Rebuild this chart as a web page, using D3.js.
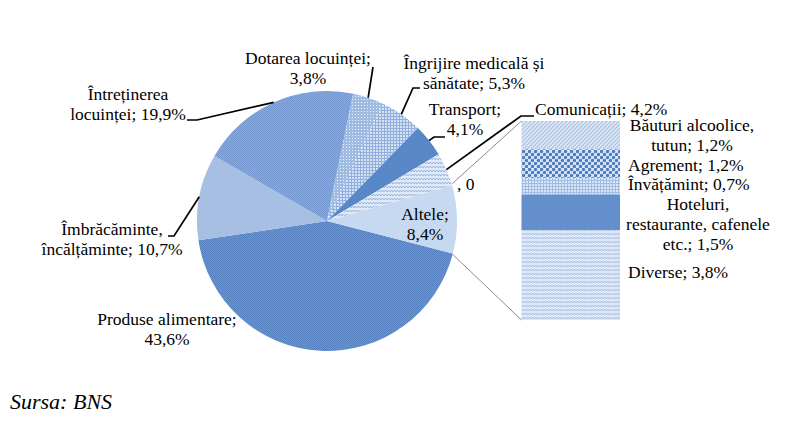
<!DOCTYPE html>
<html><head><meta charset="utf-8">
<script src="https://cdn.jsdelivr.net/npm/d3@7"></script>
<style>
body{margin:0;background:#fff}
svg{display:block}
</style>
</head><body><svg id="c" width="799" height="431"></svg>
<script>
// ---- data ----
const categories = ["Produse alimentare","Îmbrăcăminte, încălțăminte","Întreținerea locuinței","Dotarea locuinței","Îngrijire medicală și sănătate","Transport","Comunicații","Altele"];
const values = [43.6,10.7,19.9,3.8,5.3,4.1,4.2,8.4];
const labelLines = [["Produse alimentare;","43,6%"],["Îmbrăcăminte,","încălțăminte; 10,7%"],["Întreținerea","locuinței; 19,9%"],["Dotarea locuinței;","3,8%"],["Îngrijire medicală și","sănătate; 5,3%"],["Transport;","4,1%"],["Comunicații; 4,2%"],["Altele;","8,4%"]];
const otherCategories = ["Băuturi alcoolice, tutun","Agrement","Învățămint","Hoteluri, restaurante, cafenele etc.","Diverse"];
const otherValues = [1.2,1.2,0.7,1.5,3.8];
const otherLabelLines = [["Băuturi alcoolice,","tutun; 1,2%"],["Agrement; 1,2%"],["Învățămint; 0,7%"],["Hoteluri,","restaurante, cafenele","etc.; 1,5%"],["Diverse; 3,8%"]];
const zeroLabel = ", 0";
const sourceText = "Sursa: BNS";

// ---- layout / style ----
const W = 799, H = 431;
const FONT = "Liberation Serif", FS = 17.5;
const cx = 327, cy = 221, R = 130, startDeg = 104.5;
const lineH = 20;
const pieFills = ["url(#p-prod)","#a6bfe2","url(#p-intr)","url(#p-dot)","url(#p-ingr)","url(#p-transp)","url(#p-comm)","#c7d9f0"];
const barFills = ["url(#p-bev)","url(#p-agr)","url(#p-inv)","url(#p-hot)","url(#p-div)"];
const pieLabelPos = [
  {x:167,y:325,a:"middle",elbow:null},
  {x:112,y:235,a:"middle",elbow:[[174,236],[168,236]]},
  {x:128,y:100,a:"middle",elbow:[[197,120],[187,120]]},
  {x:308,y:63.5,a:"middle",elbow:[[373,67]]},
  {x:474,y:68.5,a:"middle",elbow:[[413,88],[420,88]]},
  {x:465,y:115,a:"middle",elbow:[[434,137],[445,137]]},
  {x:535,y:115,a:"start",elbow:[[521,116],[534,116]]},
  {x:425,y:220,a:"middle",elbow:null}
];
const barLabelPos = [
  {x:692,y:131,a:"middle"},
  {x:628,y:171,a:"start"},
  {x:628,y:190,a:"start"},
  {x:698,y:209.5,a:"middle"},
  {x:628,y:278,a:"start"}
];
const bar = {x0:521.5, x1:620, y0:121, y1:320};

const svg = d3.select("#c");
svg.append("rect").attr("width",W).attr("height",H).attr("fill","#fff");
const defs = svg.append("defs");

function pattern(id,w,h,bg,build){
  const p = defs.append("pattern").attr("id",id).attr("patternUnits","userSpaceOnUse").attr("width",w).attr("height",h);
  p.append("rect").attr("width",w).attr("height",h).attr("fill",bg);
  build(p);
}
function checker(id,a,b){
  pattern(id,2,2,a,p=>{
    p.append("rect").attr("x",0).attr("y",0).attr("width",1).attr("height",1).attr("fill",b);
    p.append("rect").attr("x",1).attr("y",1).attr("width",1).attr("height",1).attr("fill",b);
  });
}
function grid(id,bg,line){
  pattern(id,3,3,bg,p=>{
    p.append("rect").attr("x",0).attr("y",0).attr("width",3).attr("height",1).attr("fill",line);
    p.append("rect").attr("x",0).attr("y",0).attr("width",1).attr("height",3).attr("fill",line);
  });
}
function zigzag(id,bg,line){
  pattern(id,6,4,bg,p=>{
    p.append("path").attr("d","M0,3 L1.5,1 L3,3 L4.5,1 L6,3").attr("fill","none").attr("stroke",line).attr("stroke-width",1);
  });
}
checker("p-prod","#6893ce","#5884c4");
checker("p-intr","#86a9d9","#7599d0");
checker("p-transp","#5f8cc9","#5483c4");
checker("p-hot","#6b95ce","#5d89c6");
pattern("p-dot",3,3,"#9fbbe2",p=>{
  p.append("rect").attr("x",1).attr("y",1).attr("width",1).attr("height",1).attr("fill","#eef4fb");
});
grid("p-ingr","#d6e2f4","#90afdc");
grid("p-inv","#dbe6f5","#a2bde3");
zigzag("p-comm","#e0eaf7","#9ab6df");
zigzag("p-div","#dde7f5","#a9c1e4");
pattern("p-bev",4,4,"#dde7f5",p=>{
  p.append("path").attr("d","M-1,1 L1,-1 M0,4 L4,0 M3,5 L5,3").attr("stroke","#a9c2e5").attr("stroke-width",1.2);
});
pattern("p-agr",6,6,"#dbe6f5",p=>{
  p.append("circle").attr("cx",1.5).attr("cy",1.5).attr("r",1.7).attr("fill","#4f7cbd");
  p.append("circle").attr("cx",4.5).attr("cy",4.5).attr("r",1.7).attr("fill","#4f7cbd");
});

// ---- pie ----
const rad = d => d*Math.PI/180;
const pie = d3.pie().sort(null).startAngle(rad(startDeg)).endAngle(rad(startDeg+360)).value(d=>d);
const arcs = pie(values);
const arc = d3.arc().innerRadius(0).outerRadius(R);
const g = svg.append("g").attr("transform",`translate(${cx},${cy})`);
g.selectAll("path").data(arcs).join("path").attr("d",arc).attr("fill",(d,i)=>pieFills[i]);

const pt = (ang,r) => [cx + r*Math.sin(ang), cy - r*Math.cos(ang)];

// ---- bar of "Altele" ----
const yB = d3.scaleLinear().domain([0,d3.sum(otherValues)]).range([bar.y0,bar.y1]);
const xB = d3.scaleBand().domain(["Altele"]).range([bar.x0,bar.x1]).padding(0);
const stacked = d3.stack().keys(otherCategories)([Object.fromEntries(otherCategories.map((c,i)=>[c,otherValues[i]]))]);
svg.append("g").selectAll("rect").data(stacked).join("rect")
  .attr("x",xB("Altele")).attr("width",xB.bandwidth())
  .attr("y",d=>yB(d[0][0])).attr("height",d=>yB(d[0][1])-yB(d[0][0]))
  .attr("fill",(d,i)=>barFills[i]);

// connector lines
const alt = arcs[arcs.length-1];
const cTop = pt(alt.startAngle,R), cBot = pt(alt.endAngle,R);
svg.append("line").attr("x1",cTop[0]).attr("y1",cTop[1]-2).attr("x2",xB("Altele")).attr("y2",yB(0))
  .attr("stroke","#8c8c8c").attr("stroke-width",1);
svg.append("line").attr("x1",cBot[0]).attr("y1",cBot[1]+1).attr("x2",xB("Altele")).attr("y2",yB(d3.sum(otherValues)))
  .attr("stroke","#8c8c8c").attr("stroke-width",1);

// leader lines
arcs.forEach((d,i)=>{
  const L = pieLabelPos[i];
  if(!L.elbow) return;
  const mid = (d.startAngle+d.endAngle)/2;
  const pts = [pt(mid,R)].concat(L.elbow);
  svg.append("path").attr("d",d3.line()(pts)).attr("fill","none").attr("stroke","#000").attr("stroke-width",1.7);
});

// labels
function drawLabel(lines,L){
  const t = svg.append("text").attr("text-anchor",L.a).attr("font-family",FONT).attr("font-size",FS).attr("fill","#000");
  lines.forEach((s,k)=>t.append("tspan").attr("x",L.x).attr("y",L.y+k*lineH).text(s));
}
labelLines.forEach((lines,i)=>drawLabel(lines,pieLabelPos[i]));
otherLabelLines.forEach((lines,i)=>drawLabel(lines,barLabelPos[i]));
svg.append("text").attr("x",457).attr("y",190).attr("font-family",FONT).attr("font-size",FS).text(zeroLabel);

svg.append("text").attr("x",10).attr("y",409).attr("font-family",FONT).attr("font-size",22)
  .attr("font-style","italic").text(sourceText);
</script>
</body></html>
